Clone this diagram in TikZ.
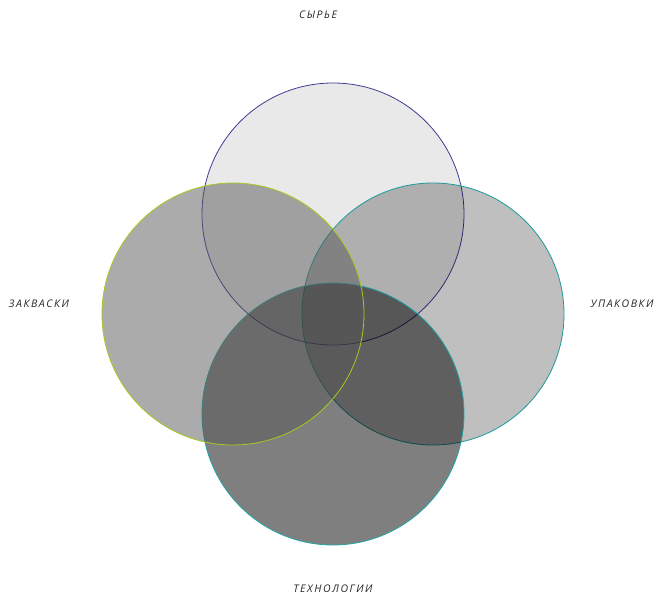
\documentclass[tikz,border=0pt]{standalone}
\usepackage{fontspec}
\setmainfont{Open Sans}
\begin{document}
\begin{tikzpicture}[x=1pt,y=-1pt,
  venn/.style={line width=0.8pt},
  lbl/.style={font=\fontsize{10.5}{12}\selectfont\addfontfeatures{LetterSpace=15}\itshape, text=black!85, inner sep=0pt}]
\useasboundingbox (0,0) rectangle (657,596);
\definecolor{topc}{HTML}{3C3C96}
\definecolor{leftc}{HTML}{A2CD1E}
\definecolor{rightc}{HTML}{1A9A9A}
\definecolor{botc}{HTML}{1FA5A5}
\definecolor{leftfill}{gray}{0.34}
% top
\fill[black, fill opacity=0.085] (333,214) circle (131);
\draw[venn, topc] (333,214) circle (131);
% right
\fill[black, fill opacity=0.25] (433,314) circle (131);
\draw[venn, rightc] (433,314) circle (131);
% bottom
\fill[black, fill opacity=0.5] (333,414) circle (131);
\draw[venn, botc] (333,414) circle (131);
% left
\fill[leftfill, fill opacity=0.5] (233,314) circle (131);
\draw[venn, leftc] (233,314) circle (131);
\node[lbl] (t) at (318,15) {СЫРЬЕ};
\node[lbl] (l) at (39,304) {ЗАКВАСКИ};
\node[lbl] (r) at (622,304) {УПАКОВКИ};
\node[lbl] (b) at (333,589) {ТЕХНОЛОГИИ};
\end{tikzpicture}
\end{document}
